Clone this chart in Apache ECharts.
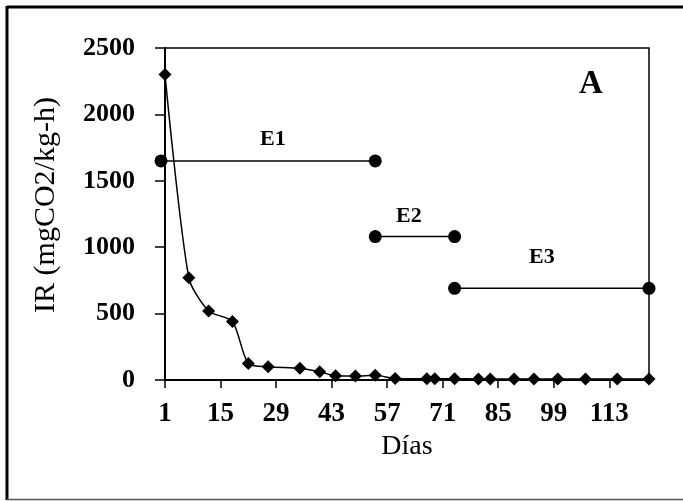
<!DOCTYPE html>
<html>
<head>
<meta charset="utf-8">
<script src="https://cdn.jsdelivr.net/npm/echarts@6/dist/echarts.min.js"></script>
<style>html,body{margin:0;padding:0;background:#fff;}#c{width:683px;height:501px;}</style>
</head>
<body>
<div id="c"></div>
<script>
// Main series: respiration rate (IR) by day
const days = [1, 7, 12, 18, 22, 27, 35, 40, 44, 49, 54, 59, 67, 69, 74, 80, 83, 89, 94, 100, 107, 115, 123];
const irValues = [2300, 770, 520, 440, 125, 100, 88, 62, 32, 30, 35, 12, 10, 10, 10, 8, 8, 8, 8, 8, 8, 8, 8];
// Stage segments E1, E2, E3
const e1Days = [0, 54];
const e1Values = [1650, 1650];
const e2Days = [54, 74];
const e2Values = [1080, 1080];
const e3Days = [74, 123];
const e3Values = [690, 690];
// Tick labels
const xTicks = [1, 15, 29, 43, 57, 71, 85, 99, 113];
const yTicks = [0, 500, 1000, 1500, 2000, 2500];

const zip = (a, b) => a.map((v, i) => [v, b[i]]);
const FONT = 'Liberation Serif';

const chart = echarts.init(document.getElementById('c'), null, {renderer: 'canvas'});
const segStyle = (d, v) => ({
  type: 'line', data: zip(d, v), symbol: 'circle', symbolSize: 13,
  clip: false, z: 3,
  itemStyle: {color: '#000'}, lineStyle: {color: '#000', width: 1.5},
  animation: false
});
chart.setOption({
  backgroundColor: '#fff',
  animation: false,
  grid: {left: 165, right: 34, top: 48, bottom: 121, show: true, borderColor: '#000', borderWidth: 1.5, backgroundColor: '#fff'},
  xAxis: {
    type: 'value', min: 1, max: 123,
    name: 'Días', nameLocation: 'middle', nameGap: 44,
    nameTextStyle: {fontFamily: FONT, fontSize: 28, color: '#000'},
    axisLine: {show: true, lineStyle: {color: '#000', width: 2}},
    axisTick: {show: true, customValues: xTicks, length: 8, inside: false, lineStyle: {color: '#000', width: 1.5}},
    axisLabel: {customValues: xTicks, color: '#000', fontFamily: FONT, fontSize: 27, fontWeight: 'bold', margin: 21},
    splitLine: {show: false}
  },
  yAxis: {
    type: 'value', min: yTicks[0], max: yTicks[yTicks.length - 1], interval: 500,
    name: 'IR (mgCO2/kg-h)', nameLocation: 'middle', nameGap: 104, nameRotate: 90,
    nameTextStyle: {fontFamily: FONT, fontSize: 30, color: '#000', padding: [0, 0, 0, 18]},
    axisLine: {show: true, lineStyle: {color: '#000', width: 2}},
    axisTick: {show: true, length: 10, lineStyle: {color: '#000', width: 1.5}},
    axisLabel: {color: '#000', fontFamily: FONT, fontSize: 26, fontWeight: 'bold', margin: 30, formatter: v => String(v)},
    splitLine: {show: false}
  },
  graphic: [
    {type: 'line', shape: {x1: 7, y1: 7, x2: 683, y2: 7}, style: {stroke: '#000', lineWidth: 3}},
    {type: 'line', shape: {x1: 7, y1: 6, x2: 7, y2: 500}, style: {stroke: '#000', lineWidth: 3}},
    {type: 'line', shape: {x1: 7, y1: 499.5, x2: 683, y2: 499.5}, style: {stroke: '#555', lineWidth: 1.5}},
    {type: 'text', left: 579, top: 68, style: {text: 'A', fontFamily: FONT, fontSize: 33, fontWeight: 'bold', fill: '#000'}},
    {type: 'text', left: 260, top: 128, style: {text: 'E1', fontFamily: FONT, fontSize: 22, fontWeight: 'bold', fill: '#000'}},
    {type: 'text', left: 396, top: 205, style: {text: 'E2', fontFamily: FONT, fontSize: 22, fontWeight: 'bold', fill: '#000'}},
    {type: 'text', left: 529, top: 246, style: {text: 'E3', fontFamily: FONT, fontSize: 22, fontWeight: 'bold', fill: '#000'}}
  ],
  series: [
    {
      type: 'line', data: zip(days, irValues), symbol: 'diamond', symbolSize: 13,
      smooth: 0.25, z: 4,
      itemStyle: {color: '#000'}, lineStyle: {color: '#000', width: 1.5}
    },
    segStyle(e1Days, e1Values),
    segStyle(e2Days, e2Values),
    segStyle(e3Days, e3Values)
  ]
});
</script>
</body>
</html>
